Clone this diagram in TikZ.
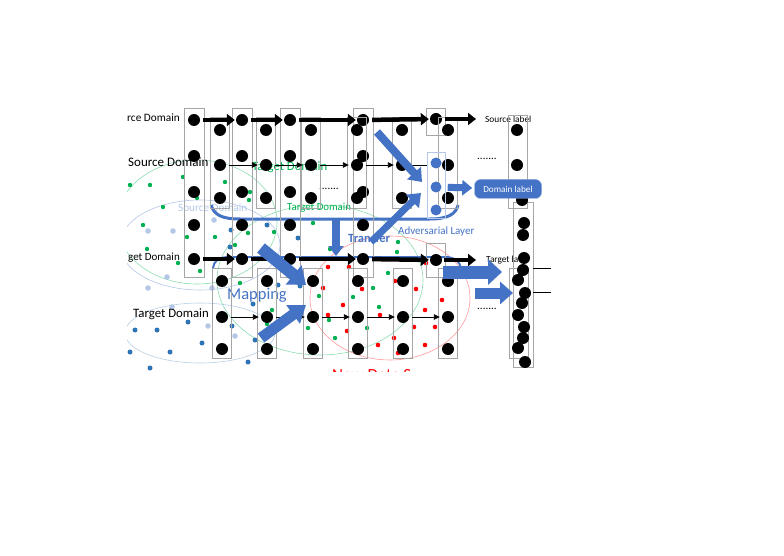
\documentclass[tikz,border=0pt]{standalone}
\usepackage{fontspec}
\setmainfont{Carlito}
\usepackage{xcolor}
\usetikzlibrary{arrows.meta,positioning,shapes,calc}

\definecolor{accent}{HTML}{4472C4}
\definecolor{paleblue}{HTML}{B4C7E7}
\definecolor{midblue}{HTML}{2E75B6}
\definecolor{srcgreen}{HTML}{00B050}
\definecolor{boxgray}{HTML}{A6A6A6}

\newcommand{\fsz}[1]{\fontsize{#1}{#1}\selectfont}

\begin{document}
\begin{tikzpicture}[x=1pt, y=-1pt,
    dot/.style={circle, fill=black, inner sep=0pt, minimum size=12pt},
    advdot/.style={circle, fill=accent, inner sep=0pt, minimum size=11pt},
    colbox/.style={draw=boxgray, line width=0.8pt, inner sep=0pt, minimum width=19pt},
    txt/.style={inner sep=0pt, anchor=west},
    bigarrow/.style={-{Triangle[length=8pt,width=12pt]}, line width=4.5pt},
    thinarrow/.style={-{Triangle[length=6pt,width=5.5pt]}, line width=0.9pt},
    block/.style={accent, -{Triangle[length=12pt,width=18pt]}, line width=8pt},
    cloud/.style={line width=0.6pt}
]
    \useasboundingbox (0,0) rectangle (784,556);

    % Sample clouds
    \begin{scope}
        \clip (127,100) rectangle (560,371.5);
        \draw[cloud, srcgreen!45] (197,222) ellipse [x radius=80, y radius=62];
        \draw[cloud, paleblue] (200,245) ellipse [x radius=80, y radius=45];
        \draw[cloud, srcgreen!45] (320,280) ellipse [x radius=103, y radius=75];
        \draw[cloud, red!40] (390,298) ellipse [x radius=80, y radius=62];
        \draw[cloud, midblue!35] (200,333) ellipse [x radius=75, y radius=30];
        \foreach \p in {(183,177),(225,182),(150,185),(130,185),(163,207),(197,198),(143,225),
            (250,192),(249,200),(187,237),(215,237),(248,233),(235,245),(274,232),(147,249),
            (178,263),(200,271),(313,223),(330,249),(240,283),(272,310),(267,324),(319,296),
            (308,328),(329,320),(398,242),(397,252),(388,273),(373,288),(353,297),(379,307),
            (367,328),(335,338)}
            \fill[srcgreen] \p circle (2.2);
        \foreach \p in {(148,231),(173,231),(214,220),(167,277),(148,288),(212,288),(172,307),
            (208,326),(235,336)}
            \fill[paleblue] \p circle (2.8);
        \foreach \p in {(267,225),(298,238),(231,230),(230,247),(253,304),(188,322),(135,330),
            (157,330),(202,343),(130,352),(170,352),(232,326),(255,340),(248,362),(150,368),
            (278,285),(300,286)}
            \fill[midblue] \p circle (2.5);
        \foreach \p in {(328,267),(323,288),(328,315),(349,267),(362,289),(343,305),(380,315),
            (347,331),(395,281),(416,289),(426,263),(442,300),(425,310),(414,327),(435,327),
            (394,338),(378,345),(425,345),(398,353)}
            \fill[red] \p circle (2.3);
        \node[inner sep=0pt, anchor=base west, red, font=\fsz{17}] (newdata) at (332,380) {New Data S};
    \end{scope}

    % Labels
    \node[txt, font=\fsz{11.3}] (rcedom) at (127,118) {rce Domain};
    \node[txt, font=\fsz{13}] (srcdom) at (128,162) {Source Domain};
    \node[txt, font=\fsz{11}] (getdom) at (128,258) {get Domain};
    \node[txt, font=\fsz{12.8}] (tgtdom) at (133,314) {Target Domain};
    \node[txt, srcgreen, font=\fsz{12.7}] (tgtgreen) at (252,167) {Target Domain};
    \node[txt, paleblue, font=\fsz{11.2}] (srcpale) at (178,208) {Source Domain};
    \node[txt, srcgreen, font=\fsz{10.8}] (tgtgreen2) at (287,208) {Target Domain};
    \node[txt, font=\fsz{11}] (gap1) at (319,189) {.......};
    \node[txt, font=\fsz{11}] (gap2) at (477,159) {.......};
    \node[txt, font=\fsz{11}] (gap3) at (477,309) {.......};
    \node[txt, font=\fsz{9.3}] (srclbl) at (485,119) {Source label};
    \node[txt, font=\fsz{9.3}] (tgtlbl) at (486,260) {Target la};
    \node[txt, accent, font=\fsz{11}] (advtxt) at (398,232) {Adversarial Layer};
    \node[txt, accent, font=\bfseries\fsz{12.5}] (transtxt) at (348,238) {Transfer};
    \node[txt, accent, font=\fsz{16.5}] (maptxt) at (227,295) {Mapping};

    % Brackets round the shared layer
    \draw[accent, line width=3pt] (211,205) .. controls (214,215) and (222,219) .. (240,219)
        -- (430,219) .. controls (448,219) and (456,214) .. (458,205);
    \draw[accent, line width=2pt] (213,268) .. controls (214,261) and (218,257) .. (230,257)
        -- (445,257) .. controls (455,257) and (460,262) .. (461,268);

    % Shared network
    \foreach \c/\x in {1/194,2/242,3/290,4/363} {
        \node[colbox, minimum width=20pt, minimum height=169pt] (acol\c) at (\x,192.5) {};
        \foreach \r/\y in {1/120,2/156,3/192,4/225,5/259}
            \node[dot] (a\c-\r) at (\x,\y) {};
    }
    \node[colbox, minimum height=27pt] (atop) at (436,121.5) {};
    \node[colbox, minimum height=34pt] (abot) at (436,260) {};
    \node[dot] (a5-1) at (436,119) {};
    \node[dot] (a5-5) at (436,260) {};

    % Source network
    \foreach \c/\x in {1/220,2/266,3/311,4/357,5/402,6/448} {
        \node[colbox, minimum height=91pt] (scol\c) at (\x,162.5) {};
        \node[dot] (s\c-1) at (\x,130) {};
        \node[dot] (s\c-2) at (\x,165) {};
        \node[dot] (s\c-3) at (\x,198) {};
    }

    % Target network
    \foreach \c/\x in {1/222,2/267,3/313,4/358,5/403,6/448} {
        \node[colbox, minimum height=90pt] (tcol\c) at (\x,313) {};
        \node[dot] (t\c-1) at (\x,281) {};
        \node[dot] (t\c-2) at (\x,317) {};
        \node[dot] (t\c-3) at (\x,349) {};
    }

    % Output columns
    \node[colbox, minimum height=93pt] (scol7) at (517.5,161.5) {};
    \node[colbox, minimum width=20pt, minimum height=165pt] (rcol) at (523,284.5) {};
    \node[colbox, minimum height=90pt] (tcol7) at (518.5,313) {};
    \node[dot] (s7-1) at (517,130) {};
    \node[dot] (s7-2) at (517,165) {};
    \node[dot] (s7-3) at (522,200) {};
    \foreach \i/\x/\y in {1/524/223,2/523/235,3/524/258,4/523/270,5/525/293,
        6/522/303,7/524/327,8/523/338,9/525/362}
        \node[dot] (r\i) at (\x,\y) {};
    \node[dot] (t7-1) at (518,280) {};
    \node[dot] (t7-2) at (518,315) {};
    \node[dot] (t7-3) at (518,348) {};
    \coordinate (out1) at (551,268);
    \coordinate (out2) at (551,292);
    \draw[line width=0.8pt] (out1 -| rcol.east) -- (out1);
    \draw[line width=0.8pt] (out2 -| rcol.east) -- (out2);

    % Adversarial layer
    \node[draw=paleblue, line width=0.8pt, inner sep=0pt, minimum width=18pt, minimum height=66pt] (adv) at (436,185) {};
    \node[advdot] (adv1) at (436,163) {};
    \node[advdot] (adv2) at (436,187) {};
    \node[advdot] (adv3) at (436,210) {};

    % Thin arrows
    \foreach \a/\b in {1/2,2/3,3/4,4/5}
        \draw[thinarrow, shorten <=3pt, shorten >=2pt] (s\a-2) -- (s\b-2);
    \draw[line width=0.9pt, shorten <=3pt] (s5-2) -- (s5-2 -| adv.west);
    \foreach \a/\b in {1/2,2/3,3/4,4/5,5/6}
        \draw[thinarrow, shorten <=3pt, shorten >=2pt] (t\a-2) -- (t\b-2);

    % Big arrows
    \foreach \a/\b in {1/2,2/3,3/4,4/5} {
        \draw[bigarrow, shorten <=3pt, shorten >=1pt] (a\a-1) -- (a\b-1);
        \draw[bigarrow, shorten <=3pt, shorten >=1pt] (a\a-5) -- (a\b-5);
    }
    \draw[bigarrow, shorten <=3pt, shorten >=9pt] (a5-1) -- (srclbl);
    \draw[bigarrow, shorten <=2pt, shorten >=10pt] (a5-5) -- (tgtlbl);

    % Transfer arrows
    \coordinate (d1s) at (377,132);
    \coordinate (d1e) at (422,182);
    \coordinate (trs) at (371,242);
    \coordinate (tre) at (421,193);
    \coordinate (vs) at (336,219);
    \coordinate (ve) at (336,256);
    \coordinate (m1s) at (261,248);
    \coordinate (m1e) at (306,285);
    \coordinate (m2s) at (261,338);
    \coordinate (m2e) at (306,305);
    \coordinate (r1s) at (443,272);
    \coordinate (r1e) at (502,272);
    \coordinate (r2s) at (475,293);
    \coordinate (r2e) at (513,293);
    \draw[block] (d1s) -- (d1e);
    \draw[block, line width=7pt] (trs) -- (tre);
    \draw[block, line width=8pt, -{Triangle[length=10pt,width=15pt]}] (vs) -- (ve);
    \draw[block, line width=12pt, -{Triangle[length=16pt,width=24pt]}] (m1s) -- (m1e);
    \draw[block, line width=11pt, -{Triangle[length=16pt,width=22pt]}] (m2s) -- (m2e);
    \draw[block, line width=13pt, -{Triangle[length=14pt,width=25pt]}] (r1s) -- (r1e);
    \draw[block, line width=11pt, -{Triangle[length=13pt,width=22pt]}] (r2s) -- (r2e);

    % Domain classifier
    \node[rounded corners=6pt, fill=accent, draw=accent!60!white, text=white, inner sep=0pt,
        minimum width=67pt, minimum height=19pt, font=\fsz{9.2}] (domlbl) at (508,189) {Domain label};
    \draw[block, line width=7pt, -{Triangle[length=10pt,width=15pt]}, shorten <=6pt, shorten >=2pt] (adv2) -- (domlbl);
\end{tikzpicture}
\end{document}
